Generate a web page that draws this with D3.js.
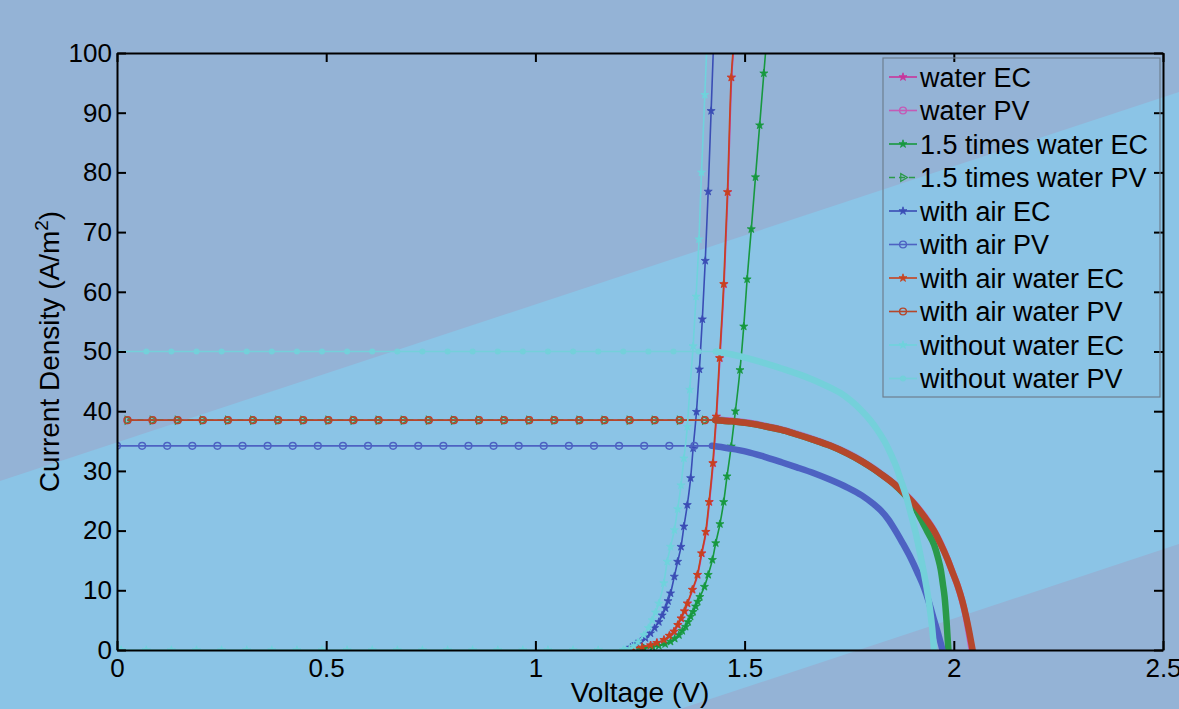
<!DOCTYPE html>
<html><head><meta charset="utf-8">
<script src="https://cdn.jsdelivr.net/npm/d3@7"></script>
<style>
body{margin:0;background:#94b3d6;overflow:hidden}
text{font-family:"Liberation Sans",Arial,sans-serif;fill:#000}
</style></head>
<body><svg id="c" width="1179" height="709"></svg>
<script>
// ---------- data ----------
const xTicks = [0, 0.5, 1, 1.5, 2, 2.5];
const yTicks = [0, 10, 20, 30, 40, 50, 60, 70, 80, 90, 100];
const seriesNames = ["water EC","water PV","1.5 times water EC","1.5 times water PV","with air EC","with air PV","with air water EC","with air water PV","without water EC","without water PV"];

// PV flat-part sample voltages (marker positions)
const gridWaterV   = [0.025,0.085,0.145,0.205,0.265,0.325,0.385,0.445,0.505,0.565,0.625,0.685,0.745,0.805,0.865,0.925,0.985,1.045,1.105,1.165,1.225,1.285,1.345,1.405];
const gridAirV     = [0,0.06,0.12,0.18,0.24,0.30,0.36,0.42,0.48,0.54,0.60,0.66,0.72,0.78,0.84,0.90,0.96,1.02,1.08,1.14,1.20,1.26,1.32,1.38];
const gridWithoutV = [0,0.07,0.13,0.19,0.25,0.31,0.37,0.43,0.49,0.55,0.61,0.67,0.73,0.79,0.85,0.91,0.97,1.03,1.09,1.15,1.21,1.27,1.33,1.39];
const gridZeroV    = [0.01,0.07,0.13,0.19,0.25,0.31,0.37,0.43,0.49,0.55,0.61,0.67,0.73,0.79,0.85,0.91,0.97,1.03,1.09,1.15,1.21];

// short-circuit current densities (A/m2)
const iscWater = 38.5, iscWater15 = 38.5, iscAir = 34.2, iscAirWater = 38.5, iscWithout = 50.0;

// PV knee-to-Voc parts [V, J]
const airWaterPVKnee = [[1.43,38.5],[1.47,38.3],[1.507,38.0],[1.546,37.5],[1.586,36.9],[1.625,36.1],[1.665,35.2],[1.705,34.2],[1.746,32.9],[1.78,31.6],[1.809,30.3],[1.825,29.5],[1.857,27.8],[1.88,26.3],[1.905,24.5],[1.93,22.3],[1.953,19.9],[1.969,17.7],[1.985,15.2],[1.997,13.0],[2.009,10.8],[2.02,8.3],[2.029,5.7],[2.037,3.0],[2.045,0]];
const waterPVKnee    = [[1.43,38.6],[1.47,38.4],[1.507,38.1],[1.546,37.6],[1.586,37.0],[1.625,36.2],[1.665,35.3],[1.705,34.3],[1.746,33.0],[1.78,31.7],[1.809,30.4],[1.825,29.6],[1.857,27.9],[1.88,26.4],[1.905,24.6],[1.93,22.4],[1.953,20.0],[1.969,17.8],[1.985,15.2],[1.997,13.0],[2.009,10.8],[2.02,8.2],[2.029,5.5],[2.036,2.8],[2.043,0]];
const water15PVKnee  = [[1.43,38.5],[1.47,38.3],[1.507,38.0],[1.546,37.5],[1.586,36.9],[1.625,36.1],[1.665,35.2],[1.705,34.2],[1.746,32.9],[1.78,31.6],[1.809,30.3],[1.825,29.5],[1.857,27.8],[1.88,26.2],[1.905,24.1],[1.921,22.0],[1.937,19.8],[1.953,17.6],[1.962,15.5],[1.969,13.4],[1.974,11.0],[1.978,8.9],[1.983,4.5],[1.987,0]];
const airPVKnee      = [[1.422,34.2],[1.46,33.8],[1.506,33.2],[1.546,32.4],[1.586,31.5],[1.625,30.6],[1.666,29.6],[1.705,28.5],[1.746,27.2],[1.78,25.9],[1.809,24.4],[1.825,23.4],[1.843,21.9],[1.857,20.4],[1.877,18.0],[1.897,15.4],[1.913,13.0],[1.929,10.4],[1.941,7.9],[1.953,5.0],[1.963,2.6],[1.973,0]];
const withoutPVKnee  = [[1.431,50.0],[1.47,49.5],[1.506,48.9],[1.546,48.1],[1.586,47.2],[1.625,46.3],[1.666,45.2],[1.70,44.1],[1.730,43.0],[1.755,41.7],[1.778,40.2],[1.80,38.5],[1.817,36.9],[1.834,35.0],[1.849,32.9],[1.862,30.8],[1.873,28.5],[1.886,25.8],[1.897,22.9],[1.91,19.3],[1.921,15.6],[1.932,11.6],[1.941,7.8],[1.948,3.9],[1.953,0]];

// EC (electrolyser) curves [V, J]
const airWaterEC = [[1.225,0],[1.235,0.3],[1.255,0.5],[1.275,0.8],[1.29,1.2],[1.307,1.7],[1.32,2.4],[1.331,3.1],[1.34,4.2],[1.348,5.3],[1.356,6.5],[1.363,7.8],[1.375,10.1],[1.387,12.6],[1.397,16.2],[1.407,19.8],[1.415,24.8],[1.424,31.3],[1.432,39.1],[1.440,48.9],[1.450,61.3],[1.459,76.7],[1.468,95.9],[1.472,100]];
const waterEC    = [[1.225,0],[1.236,0.3],[1.256,0.5],[1.276,0.8],[1.291,1.2],[1.308,1.7],[1.321,2.4],[1.332,3.1],[1.341,4.2],[1.349,5.3],[1.357,6.5],[1.364,7.8],[1.376,10.1],[1.388,12.6],[1.398,16.2],[1.408,19.8],[1.416,24.8],[1.425,31.3],[1.433,39.1],[1.441,48.9],[1.451,61.3],[1.460,76.7],[1.469,95.9],[1.473,100]];
const water15EC  = [[1.227,0],[1.259,0.3],[1.28,0.5],[1.295,0.7],[1.31,1.0],[1.323,1.4],[1.333,1.9],[1.343,2.5],[1.351,3.2],[1.359,3.9],[1.365,4.7],[1.371,5.6],[1.377,6.4],[1.383,7.3],[1.388,8.1],[1.393,8.9],[1.404,10.6],[1.413,12.6],[1.423,15.1],[1.431,17.9],[1.441,21.1],[1.450,24.8],[1.458,29.1],[1.468,34.1],[1.478,40.0],[1.489,46.9],[1.498,54.2],[1.506,62.1],[1.516,70.5],[1.526,79.2],[1.536,87.9],[1.546,96.6],[1.550,100]];
const airEC      = [[1.222,0],[1.227,0.4],[1.24,1.0],[1.251,1.4],[1.263,2.0],[1.275,2.8],[1.285,3.7],[1.295,4.7],[1.303,5.8],[1.311,7.0],[1.317,8.2],[1.323,9.5],[1.332,12.3],[1.340,14.8],[1.348,17.3],[1.355,20.7],[1.363,24.3],[1.371,28.8],[1.377,33.8],[1.385,39.9],[1.392,47.0],[1.399,55.4],[1.406,65.2],[1.413,76.8],[1.420,90.3],[1.425,100]];
const withoutEC  = [[1.215,0],[1.225,0.2],[1.235,0.6],[1.245,1.3],[1.259,2.5],[1.27,3.7],[1.279,5.0],[1.287,6.3],[1.295,7.8],[1.307,11.2],[1.315,14.8],[1.323,17.3],[1.332,20.1],[1.340,23.6],[1.348,27.6],[1.355,32.1],[1.363,37.4],[1.369,43.6],[1.377,50.9],[1.384,59.2],[1.391,68.8],[1.397,80.0],[1.405,93.0],[1.409,100]];

const colors = ["#c8359b","#c45ab6","#17983f","#2a9a4a","#3a4db5","#4d62c2","#c8421e","#b5472b","#6fd3dc","#74d0da"];
const symbols = ["star","ring","star","tri","star","ring","star","ring","star","dot"];
const dashes = [null,null,null,"6,4",null,null,null,null,null,null];

// ---------- build ----------
const W = 1179, H = 709;
const FONT = "'Liberation Sans',Arial,sans-serif";
const svg = d3.select("#c");
// background
svg.append("rect").attr("width",W).attr("height",H).attr("fill","#94b3d6");
svg.append("path").attr("d","M0,481 L1179,92 L1179,544 L680,709 L0,709 Z").attr("fill","#8bc4e6");

const x = d3.scaleLinear().domain([0,2.5]).range([117,1163]);
const y = d3.scaleLinear().domain([0,100]).range([650,53]);

svg.append("clipPath").attr("id","clip").append("rect")
  .attr("x",x(0)).attr("y",y(100)).attr("width",x(2.5)-x(0)).attr("height",y(0)-y(100));

const line = d3.line().x(d=>x(d[0])).y(d=>y(d[1])).curve(d3.curveMonotoneX);

function pv(grid, isc, knee){ return {flat: grid.map(v=>[v,isc]), knee}; }
const series = [
  {ec: waterEC},
  pv(gridWaterV, iscWater, waterPVKnee),
  {ec: water15EC},
  pv(gridWaterV, iscWater15, water15PVKnee),
  {ec: airEC},
  pv(gridAirV, iscAir, airPVKnee),
  {ec: airWaterEC},
  pv(gridWaterV, iscAirWater, airWaterPVKnee),
  {ec: gridZeroV.map(v=>[v,0]).concat(withoutEC)},
  pv(gridWithoutV, iscWithout, withoutPVKnee)
];

function drawMarker(g, kind, cx, cy, col){
  if(kind==="star"){
    g.append("path").attr("d", d3.symbol(d3.symbolStar, 20)()).attr("transform",`translate(${cx},${cy})`)
     .attr("fill",col).attr("stroke",col).attr("stroke-width",0.8);
  } else if(kind==="ring"){
    g.append("circle").attr("cx",cx).attr("cy",cy).attr("r",3.4).attr("fill","none").attr("stroke",col).attr("stroke-width",1.4);
  } else if(kind==="dot"){
    g.append("circle").attr("cx",cx).attr("cy",cy).attr("r",3).attr("fill",col);
  } else if(kind==="tri"){
    g.append("path").attr("d", d3.symbol(d3.symbolTriangle, 26)()).attr("transform",`translate(${cx},${cy}) rotate(90)`)
     .attr("fill","none").attr("stroke",col).attr("stroke-width",1.3);
  }
}

const plot = svg.append("g").attr("clip-path","url(#clip)");
series.forEach((s,i)=>{
  const col = colors[i];
  const g = plot.append("g");
  if(s.ec){
    g.append("path").attr("d",line(s.ec)).attr("fill","none").attr("stroke",col).attr("stroke-width",1.6)
      .attr("stroke-dasharray",dashes[i]);
    s.ec.filter(d=>d[1]<100).forEach(d=>drawMarker(g,symbols[i],x(d[0]),y(d[1]),col));
  } else {
    const all = s.flat.concat(s.knee);
    g.append("path").attr("d",line(all)).attr("fill","none").attr("stroke",col).attr("stroke-width",1.6)
      .attr("stroke-dasharray",dashes[i]);
    // densely sampled knee region appears as a thick band of markers
    g.append("path").attr("d",line(s.knee)).attr("fill","none").attr("stroke",col).attr("stroke-width",6.5)
      .attr("stroke-linejoin","round").attr("stroke-linecap","round");
    s.flat.forEach(d=>drawMarker(g,symbols[i],x(d[0]),y(d[1]),col));
  }
});

// axes
const fs = 26;
function styleAxis(g){
  g.select(".domain").attr("stroke","#000").attr("stroke-width",2);
  g.selectAll(".tick line").attr("stroke","#000").attr("stroke-width",2);
  g.selectAll("text").style("font-size",fs+"px").style("font-family",FONT).attr("fill","#000");
}
svg.append("g").attr("transform",`translate(0,${y(0)})`)
  .call(d3.axisBottom(x).tickValues(xTicks).tickFormat(d3.format("")).tickSize(-9).tickSizeOuter(0).tickPadding(9))
  .call(styleAxis);
svg.append("g").attr("transform",`translate(0,${y(100)})`)
  .call(d3.axisTop(x).tickValues(xTicks).tickFormat("").tickSize(-9).tickSizeOuter(0))
  .call(styleAxis);
svg.append("g").attr("transform",`translate(${x(0)},0)`)
  .call(d3.axisLeft(y).tickValues(yTicks).tickFormat(d3.format("")).tickSize(-9).tickSizeOuter(0).tickPadding(5))
  .call(styleAxis);
svg.append("g").attr("transform",`translate(${x(2.5)},0)`)
  .call(d3.axisRight(y).tickValues(yTicks).tickFormat("").tickSize(-9).tickSizeOuter(0))
  .call(styleAxis);

// axis titles
svg.append("text").attr("x",(x(0)+x(2.5))/2).attr("y",702).attr("text-anchor","middle")
  .style("font-size","28px").text("Voltage (V)");
const yl = svg.append("text").attr("transform",`translate(59,${(y(0)+y(100))/2}) rotate(-90)`)
  .attr("text-anchor","middle").style("font-size","28px");
yl.append("tspan").text("Current Density (A/m");
yl.append("tspan").attr("dy",-11).style("font-size","19px").text("2");
yl.append("tspan").attr("dy",11).text(")");

// legend
const lg = svg.append("g");
lg.append("rect").attr("x",883).attr("y",58).attr("width",277).attr("height",339)
  .attr("fill","none").attr("stroke","#6e7f90").attr("stroke-width",1.2);
seriesNames.forEach((n,i)=>{
  const cy = 77 + i*33.5;
  lg.append("line").attr("x1",889).attr("x2",917).attr("y1",cy).attr("y2",cy)
    .attr("stroke",colors[i]).attr("stroke-width",1.6).attr("stroke-dasharray",dashes[i]);
  drawMarker(lg, symbols[i], 903, cy, colors[i]);
  lg.append("text").attr("x",920).attr("y",cy).attr("dy","0.36em").style("font-size","27px").text(n);
});
</script>
</body></html>
